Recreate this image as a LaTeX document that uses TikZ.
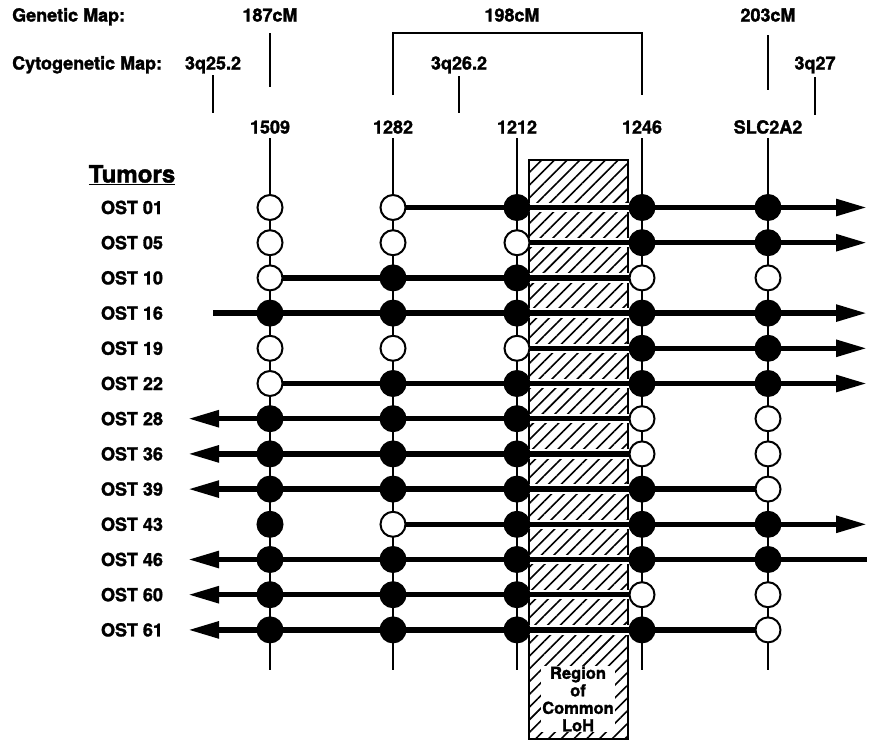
\documentclass[tikz,border=0pt]{standalone}
\usepackage{fontspec}
\setmainfont{TeX Gyre Heros}[BoldFeatures={FakeBold=1.6}]
\usepackage{xcolor}
\usetikzlibrary{positioning, arrows.meta, patterns.meta}
\definecolor{ink}{HTML}{000000}
\colorlet{loh}{ink}
\colorlet{het}{white}

\begin{document}
\begin{tikzpicture}[x=1pt, y=-1pt,
    label/.style={font=\fontsize{18}{20}\selectfont\bfseries, text=ink,
      inner sep=1pt, text height=12.5pt, text depth=3.5pt},
    tick/.style={draw=ink, line width=2.2pt},
    probe/.style={draw=ink, line width=1.8pt},
    marker/.style={circle, draw=ink, line width=2pt, minimum size=25pt, inner sep=0pt},
    row/.style={draw=ink, line width=5.5pt},
    halo/.style={draw=white, line width=9.5pt},
    righttip/.style={-{Triangle[length=31pt, width=16pt]}},
    lefttip/.style={{Triangle[length=31pt, width=16pt]}-},
    stubtip/.style={righttip, shorten <=25pt},
    notip/.style={-}]
  \useasboundingbox (0,0) rectangle (875,740);
  % map headers
  \node[label, anchor=west] (gmap) at (11,17) {Genetic Map:};
  \node[label, anchor=west] (cmap) at (11,65) {Cytogenetic Map:};
  \foreach \nm/\txt/\xc/\yc/\ye/\gap in {g1/187cM/270/17/87/7, g3/203cM/768/17/90/9,
      c1/3q25.2/213/65/113/1, c2/3q26.2/459/65/113/2, c3/3q27/815/65/115/3} {
    \node[label] (\nm) at (\xc,\yc) {\txt};
    \coordinate (\nm e) at (\xc,\ye);
    \draw[tick, shorten <=\gap pt] (\nm) -- (\nm e);
  }
  \node[label] (g2) at (512,17) {198cM};
  \coordinate (g2l) at (393,95);
  \coordinate (g2r) at (642,95);
  \draw[tick] (g2l) -- ++(0,-62) -| (g2r);
  % probes
  \foreach \mk/\xc [count=\j] in {1509/270, 1282/393, 1212/517, 1246/642, SLC2A2/768} {
    \node[label] (m\j) at (\xc,129) {\mk};
    \coordinate (b\j) at (\xc,670);
    \draw[probe] (m\j) -- (b\j);
  }
  % region of common LoH
  \draw[draw=ink, line width=2pt, pattern color=ink,
    pattern={Lines[angle=45, distance=9pt, line width=1.6pt]}]
    (529,160) rectangle (628,739);
  \node[label, font=\fontsize{24}{26}\selectfont\bfseries] (tumors) at (132,178)
    {\underline{Tumors}};
  % tumors: marker states, line from/to, tips
  \foreach \tum/\a/\b/\c/\d/\e/\from/\to/\tips [count=\i from 0] in {%
    01/het/het/loh/loh/loh/2/6/righttip,
    05/het/het/het/loh/loh/3/6/righttip,
    10/het/loh/loh/het/het/1/4/notip,
    16/loh/loh/loh/loh/loh/0/6/stubtip,
    19/het/het/het/loh/loh/3/6/righttip,
    22/het/loh/loh/loh/loh/1/6/righttip,
    28/loh/loh/loh/het/het/0/4/lefttip,
    36/loh/loh/loh/het/het/0/4/lefttip,
    39/loh/loh/loh/loh/het/0/5/lefttip,
    43/loh/het/loh/loh/loh/2/6/righttip,
    46/loh/loh/loh/loh/loh/0/6/lefttip,
    60/loh/loh/loh/het/het/0/4/lefttip,
    61/loh/loh/loh/loh/het/0/5/lefttip} {
    \pgfmathsetmacro\yr{207.5 + 35.2*\i}
    \node[label] (t\i) at (132,\yr+2) {OST \tum};
    \coordinate (r\i-0) at (188,\yr);
    \coordinate (r\i-6) at (867,\yr);
    \foreach \xc [count=\j] in {270,393,517,642,768}
      \coordinate (r\i-\j) at (\xc,\yr);
    \draw[halo] (r\i-3) -- (r\i-4);
    \draw[row, \tips] (r\i-\from) -- (r\i-\to);
    \foreach \s [count=\j] in {\a,\b,\c,\d,\e}
      \node[marker, fill=\s] (n\i-\j) at (r\i-\j) {};
  }
  \node[font=\fontsize{16.5}{17.5}\selectfont\bfseries, text=ink, fill=white,
    inner sep=1pt, align=center] (loh) at (578,699) {Region\\of\\Common\\LoH};
\end{tikzpicture}
\end{document}
